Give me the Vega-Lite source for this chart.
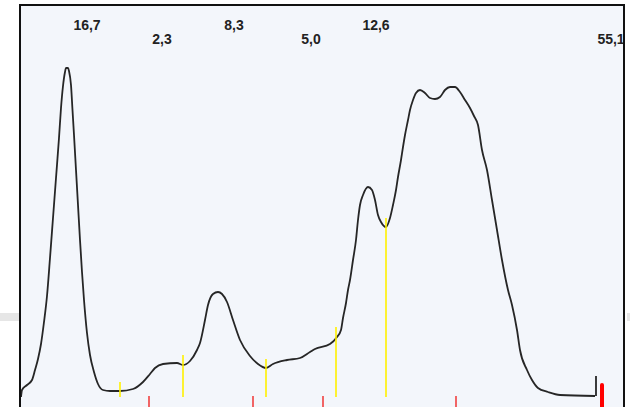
{
  "$schema": "https://vega.github.io/schema/vega-lite/v6.json",
  "width": 606,
  "height": 403,
  "autosize": "none",
  "padding": {"left": 19, "top": 4, "right": 5, "bottom": 0},
  "background": "white",
  "config": {"view": {"fill": "#F3F6FB", "stroke": null}, "axis": {"disable": true}},
  "datasets": {
    "curve": [
      {"pos": 2, "density": 0}, {"pos": 3, "density": 7}, {"pos": 8, "density": 12}, {"pos": 13, "density": 17},
      {"pos": 16, "density": 27}, {"pos": 19, "density": 38}, {"pos": 22, "density": 53}, {"pos": 25, "density": 75},
      {"pos": 28, "density": 101}, {"pos": 31, "density": 139}, {"pos": 34, "density": 179}, {"pos": 37, "density": 219},
      {"pos": 40, "density": 259}, {"pos": 42, "density": 289}, {"pos": 44, "density": 311}, {"pos": 46, "density": 325},
      {"pos": 47, "density": 329}, {"pos": 49, "density": 329}, {"pos": 50, "density": 326}, {"pos": 52, "density": 312},
      {"pos": 53.5, "density": 287}, {"pos": 55, "density": 262}, {"pos": 57, "density": 227}, {"pos": 59, "density": 192},
      {"pos": 61, "density": 157}, {"pos": 63, "density": 125}, {"pos": 65, "density": 97}, {"pos": 68, "density": 64},
      {"pos": 71, "density": 42}, {"pos": 75, "density": 25}, {"pos": 79, "density": 13},
      {"pos": 84, "density": 7}, {"pos": 91, "density": 6}, {"pos": 101, "density": 6}, {"pos": 114, "density": 8},
      {"pos": 124, "density": 15}, {"pos": 131, "density": 23}, {"pos": 136, "density": 29}, {"pos": 144, "density": 33},
      {"pos": 158, "density": 34}, {"pos": 164, "density": 32}, {"pos": 171, "density": 36}, {"pos": 178, "density": 47},
      {"pos": 181, "density": 54}, {"pos": 186, "density": 77}, {"pos": 189, "density": 92}, {"pos": 194, "density": 103},
      {"pos": 199, "density": 105}, {"pos": 203, "density": 103}, {"pos": 208, "density": 95}, {"pos": 214, "density": 77},
      {"pos": 221, "density": 57}, {"pos": 231, "density": 41}, {"pos": 239, "density": 33}, {"pos": 247, "density": 29},
      {"pos": 254, "density": 33}, {"pos": 268, "density": 37}, {"pos": 281, "density": 39}, {"pos": 291, "density": 45},
      {"pos": 296, "density": 48}, {"pos": 311, "density": 53}, {"pos": 318, "density": 60}, {"pos": 322, "density": 67},
      {"pos": 324, "density": 79}, {"pos": 327, "density": 94}, {"pos": 329, "density": 107}, {"pos": 331, "density": 117},
      {"pos": 334, "density": 137}, {"pos": 337, "density": 157}, {"pos": 339, "density": 177}, {"pos": 341, "density": 192},
      {"pos": 344, "density": 202}, {"pos": 349, "density": 210}, {"pos": 353, "density": 207}, {"pos": 356, "density": 197},
      {"pos": 359, "density": 182}, {"pos": 362, "density": 175}, {"pos": 367, "density": 170}, {"pos": 371, "density": 179},
      {"pos": 374, "density": 192}, {"pos": 377, "density": 207}, {"pos": 379, "density": 220}, {"pos": 382, "density": 237},
      {"pos": 384, "density": 250}, {"pos": 386, "density": 262}, {"pos": 389, "density": 277}, {"pos": 391, "density": 287},
      {"pos": 394, "density": 297}, {"pos": 397, "density": 304}, {"pos": 401, "density": 307}, {"pos": 406, "density": 304},
      {"pos": 411, "density": 299}, {"pos": 416, "density": 298}, {"pos": 421, "density": 300}, {"pos": 426, "density": 307},
      {"pos": 431, "density": 310}, {"pos": 436, "density": 310}, {"pos": 441, "density": 305}, {"pos": 446, "density": 297},
      {"pos": 451, "density": 289}, {"pos": 455, "density": 281}, {"pos": 459, "density": 272}, {"pos": 463, "density": 247},
      {"pos": 468, "density": 227}, {"pos": 473, "density": 197}, {"pos": 478, "density": 167}, {"pos": 483, "density": 137},
      {"pos": 489, "density": 107}, {"pos": 493, "density": 92}, {"pos": 498, "density": 67}, {"pos": 501, "density": 47},
      {"pos": 508, "density": 27}, {"pos": 513, "density": 17}, {"pos": 519, "density": 9}, {"pos": 529, "density": 5},
      {"pos": 541, "density": 2}, {"pos": 576, "density": 1}
    ],
    "yellow": [
      {"pos": 101, "top": 15, "bottom": 0},
      {"pos": 164, "top": 42, "bottom": 0},
      {"pos": 247, "top": 38, "bottom": 0},
      {"pos": 317, "top": 70, "bottom": 0},
      {"pos": 367, "top": 179, "bottom": 0}
    ],
    "red": [
      {"pos": 130, "top": 1, "bottom": -10},
      {"pos": 234, "top": 1, "bottom": -10},
      {"pos": 304, "top": 1, "bottom": -10},
      {"pos": 437, "top": 1, "bottom": -10}
    ],
    "redEnd": [{"pos": 583, "top": 12, "bottom": -10}],
    "blackEnd": [{"pos": 577, "top": 21, "bottom": 1}],
    "labels": [
      {"pos": 68, "level": 367, "label": "16,7"},
      {"pos": 143, "level": 353, "label": "2,3"},
      {"pos": 215, "level": 367, "label": "8,3"},
      {"pos": 292, "level": 353, "label": "5,0"},
      {"pos": 357, "level": 367, "label": "12,6"},
      {"pos": 592, "level": 353, "label": "55,1"}
    ],
    "band": [
      {"start": -19, "end": 0, "top": 84, "bottom": 76},
      {"start": 608, "end": 611, "top": 84, "bottom": 76}
    ]
  },
  "layer": [
    {
      "data": {"name": "band"},
      "mark": {"type": "rect", "color": "#E6E6E6"},
      "encoding": {
        "x": {"field": "start", "type": "quantitative", "scale": {"domain": [0, 606], "nice": false, "zero": false}},
        "x2": {"field": "end"},
        "y": {"field": "top", "type": "quantitative", "scale": {"domain": [-10, 393], "nice": false, "zero": false}},
        "y2": {"field": "bottom"}
      }
    },
    {
      "data": {"name": "curve"},
      "mark": {"type": "line", "color": "#262626", "strokeWidth": 1.8, "interpolate": "monotone"},
      "encoding": {
        "x": {"field": "pos", "type": "quantitative"},
        "y": {"field": "density", "type": "quantitative"}
      }
    },
    {
      "data": {"name": "yellow"},
      "mark": {"type": "rule", "color": "#FFF200", "strokeWidth": 1.6},
      "encoding": {
        "x": {"field": "pos", "type": "quantitative"},
        "y": {"field": "top", "type": "quantitative"},
        "y2": {"field": "bottom"}
      }
    },
    {
      "data": {"name": "red"},
      "mark": {"type": "rule", "color": "#F04040", "strokeWidth": 1.6},
      "encoding": {
        "x": {"field": "pos", "type": "quantitative"},
        "y": {"field": "top", "type": "quantitative"},
        "y2": {"field": "bottom"}
      }
    },
    {
      "data": {"name": "redEnd"},
      "mark": {"type": "rule", "color": "#FF0000", "strokeWidth": 4, "strokeCap": "round"},
      "encoding": {
        "x": {"field": "pos", "type": "quantitative"},
        "y": {"field": "top", "type": "quantitative"},
        "y2": {"field": "bottom"}
      }
    },
    {
      "data": {"name": "blackEnd"},
      "mark": {"type": "rule", "color": "#262626", "strokeWidth": 1.8},
      "encoding": {
        "x": {"field": "pos", "type": "quantitative"},
        "y": {"field": "top", "type": "quantitative"},
        "y2": {"field": "bottom"}
      }
    },
    {
      "data": {"name": "labels"},
      "mark": {"type": "text", "font": "Liberation Sans", "fontSize": 14, "fontWeight": "bold", "color": "#222222", "baseline": "alphabetic", "align": "center"},
      "encoding": {
        "x": {"field": "pos", "type": "quantitative"},
        "y": {"field": "level", "type": "quantitative"},
        "text": {"field": "label"}
      }
    },
    {
      "data": {"values": [{"edge": 1}, {"edge": 605}]},
      "mark": {"type": "rule", "color": "#111111", "strokeWidth": 2},
      "encoding": {"x": {"field": "edge", "type": "quantitative"}}
    },
    {
      "data": {"values": [{"edge": 392}]},
      "mark": {"type": "rule", "color": "#111111", "strokeWidth": 2},
      "encoding": {"y": {"field": "edge", "type": "quantitative"}}
    }
  ]
}
